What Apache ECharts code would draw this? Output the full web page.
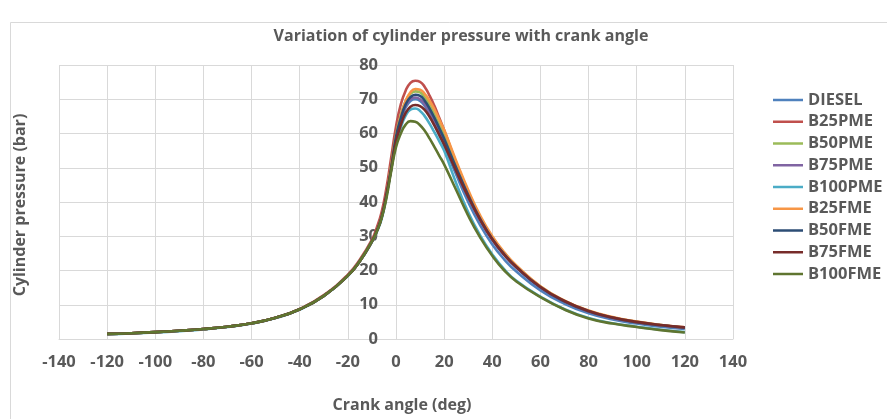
<!DOCTYPE html>
<html>
<head>
<meta charset="utf-8">
<script src="https://cdn.jsdelivr.net/npm/echarts@6/dist/echarts.min.js"></script>
<style>html,body{margin:0;padding:0;background:#fff;}#c{width:887px;height:419px;}</style>
</head>
<body>
<div id="c"></div>
<script>
var titleText = 'Variation of cylinder pressure with crank angle';
var xTitle = 'Crank angle (deg)';
var yTitle = 'Cylinder pressure (bar)';
var angles = [-120,-110,-100,-90,-80,-70,-60,-50,-40,-30,-20,-15,-10,-8,-6,-4,-2,0,2,4,6,8,10,12,14,16,18,20,25,30,35,40,45,50,60,70,80,90,100,110,120];
var seriesNames = ['DIESEL','B25PME','B50PME','B75PME','B100PME','B25FME','B50FME','B75FME','B100FME'];
var seriesColors = ['#4F81BD','#C0504D','#9BBB59','#8064A2','#4BACC6','#F79646','#2C4D75','#772C2A','#5F7530'];

var DIESEL  = [1.5,1.7,2.0,2.4,2.9,3.6,4.6,6.2,8.7,12.6,18.5,22.8,28.5,31.5,35.5,42,50, 58.5,63.8,67.6,69.5,70,69.5,68,65.5,62.5,59.5,56.5,48,40,33.2,27.6,23.2,19.7,14.2,10.3,7.5,5.7,4.5,3.6,2.9];
var B25PME  = [1.5,1.7,2.0,2.4,2.9,3.6,4.6,6.2,8.8,12.8,18.8,23.2,29,32.5,37,44,53, 62,68.5,72.5,74.8,75.4,75.1,73.5,71,68,64.5,61,51.5,43,35.5,29.5,25,21.2,15.2,11,8.1,6.2,4.9,4.0,3.3];
var B50PME  = [1.5,1.7,2.0,2.4,2.9,3.6,4.6,6.2,8.7,12.6,18.5,22.8,28.5,31.5,35.5,42,50.5, 59.5,65.5,69.5,71.6,72.3,72,70.5,68.3,65.5,62.5,59.5,50.8,42.8,35.6,29.7,25.1,21.3,15.3,11.1,8.2,6.3,5.0,4.1,3.3];
var B75PME  = [1.5,1.7,2.0,2.4,2.9,3.6,4.6,6.2,8.7,12.6,18.5,22.8,28.5,31.5,35.5,42,50, 58.5,64,68,70,70.5,70,68.5,66.2,63.5,60.5,57.5,49.2,41.4,34.6,28.9,24.4,20.8,15,10.9,8.0,6.1,4.9,4.0,3.2];
var B100PME = [1.4,1.6,1.9,2.3,2.8,3.5,4.5,6.1,8.6,12.5,18.4,22.7,28.3,31.2,35,41.5,49.5, 57,61.8,65.2,67,67.3,66.6,65,62.8,60.3,57.7,55,45.5,37,30.2,24.7,20.3,17,12.4,8.7,6.1,4.6,3.6,2.7,2.0];
var B25FME  = [1.5,1.7,2.0,2.4,2.9,3.6,4.6,6.2,8.7,12.6,18.5,22.8,28.5,31.5,35.5,42,50.5, 59,65,69.5,72,73,72.8,71.5,69.5,67,64,61,52,43.5,36,30,25.3,21.5,15.4,11.2,8.3,6.4,5.1,4.1,3.4];
var B50FME  = [1.5,1.7,2.0,2.4,2.9,3.6,4.6,6.2,8.7,12.6,18.5,22.8,28.5,31.5,35.5,42,50, 59,64.5,68.5,70.6,71.3,71,69.5,67.2,64.5,61.5,58.5,50,42,35,29.2,24.7,21,15.1,11,8.1,6.2,4.9,4.0,3.3];
var B75FME  = [1.5,1.7,2.0,2.4,2.9,3.6,4.6,6.2,8.7,12.6,18.5,22.8,28.5,31.5,35.5,42,49.5, 57.5,62.5,66,67.8,68.3,68,66.8,64.8,62.3,59.6,56.8,49,41.5,34.8,29.1,24.6,21,15.2,11.1,8.2,6.3,5.0,4.1,3.4];
var B100FME = [1.5,1.7,2.0,2.4,2.9,3.6,4.6,6.2,8.7,12.6,18.5,22.8,28.5,31.3,35.2,41,49, 56,60,62.6,63.6,63.4,62.4,60.7,58.5,56,53.5,51,43.5,36,29.6,24.3,20,16.8,12.2,8.6,6.0,4.5,3.5,2.6,1.9];
var seriesValues = [DIESEL,B25PME,B50PME,B75PME,B100PME,B25FME,B50FME,B75FME,B100FME];

var xTicks = {min:-140, max:140, interval:20};
var yTicks = {min:0, max:80, interval:10};

var FONT = '"Open Sans", sans-serif';
var TXT = '#595959';
var GRID = '#d9d9d9';

var chart = echarts.init(document.getElementById('c'), null, {renderer:'canvas'});
var series = seriesNames.map(function(n, i){
  return {
    name: n, type: 'line', smooth: true, symbol: 'none', showSymbol: false,
    data: angles.map(function(a, j){ return [a, seriesValues[i][j]]; }),
    lineStyle: {width: 2.6, color: seriesColors[i]},
    itemStyle: {color: seriesColors[i]},
    emphasis: {disabled: true}
  };
});
chart.setOption({
  animation: false,
  backgroundColor: '#ffffff',
  title: {text: titleText, left: 456, top: 23, textAlign: 'center',
    textStyle: {fontFamily: FONT, fontSize: 16, fontWeight: 'bold', color: TXT}},
  legend: {orient: 'vertical', left: 768, top: 85, itemWidth: 30, itemHeight: 2.5, itemGap: 1.75,
    icon: 'rect',
    data: seriesNames,
    textStyle: {fontFamily: FONT, fontSize: 16.5, fontWeight: 'bold', color: TXT, lineHeight: 20}},
  grid: {left: 59, right: 154, top: 65, bottom: 80, containLabel: false},
  xAxis: {type: 'value', min: xTicks.min, max: xTicks.max, interval: xTicks.interval,
    axisLine: {show: true, onZero: false, lineStyle: {color: GRID}},
    axisTick: {show: false},
    axisLabel: {margin: 15, fontFamily: FONT, fontSize: 16.5, fontWeight: 'bold', color: TXT},
    splitLine: {show: true, lineStyle: {color: GRID, width: 1}}},
  yAxis: {type: 'value', min: yTicks.min, max: yTicks.max, interval: yTicks.interval,
    position: 'left', offset: -337,
    axisLine: {show: false, onZero: false},
    axisTick: {show: false},
    axisLabel: {margin: 18, fontFamily: FONT, fontSize: 16.5, fontWeight: 'bold', color: TXT},
    splitLine: {show: true, lineStyle: {color: GRID, width: 1}}},
  graphic: [
    {type: 'rect', left: 8, top: 20, z: -10, silent: true,
      shape: {width: 900, height: 420}, style: {fill: null, stroke: '#d9d9d9', lineWidth: 1}},
    {type: 'text', x: 402, y: 405, silent: true,
      style: {text: xTitle, fontFamily: FONT, fontSize: 16, fontWeight: 'bold', fill: TXT, align: 'center', verticalAlign: 'middle'}},
    {type: 'text', x: 20, y: 205, rotation: Math.PI/2, silent: true,
      style: {text: yTitle, fontFamily: FONT, fontSize: 16, fontWeight: 'bold', fill: TXT, align: 'center', verticalAlign: 'middle'}}
  ],
  series: series
});
</script>
</body>
</html>
